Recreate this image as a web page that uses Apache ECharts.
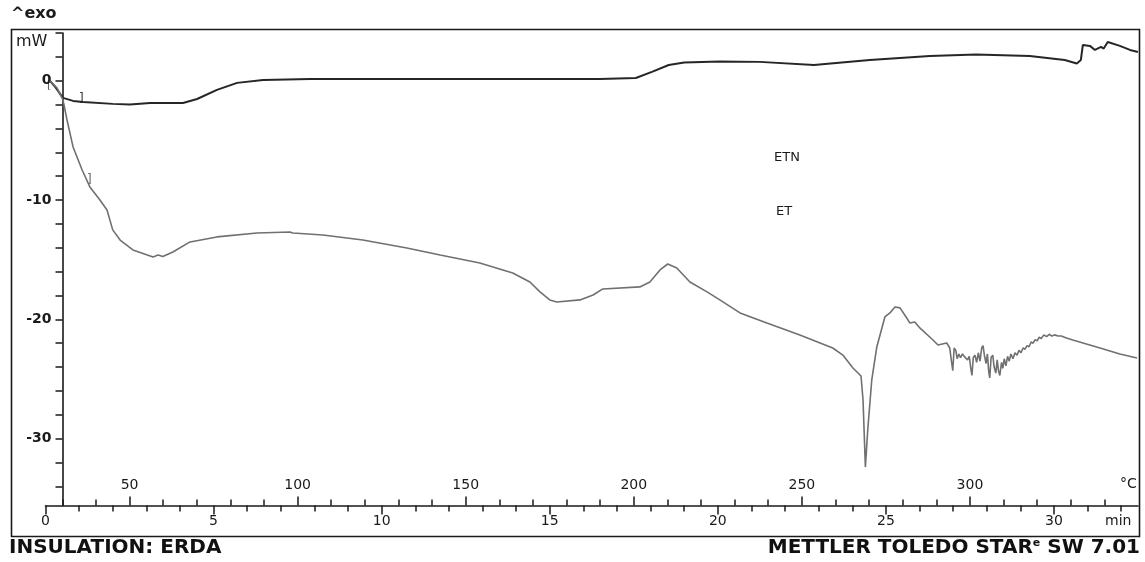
<!DOCTYPE html>
<html>
<head>
<meta charset="utf-8">
<script src="https://cdn.jsdelivr.net/npm/echarts@6/dist/echarts.min.js"></script>
<style>
html, body { margin: 0; padding: 0; background: #fff; }
#dsc { width: 1145px; height: 562px; }
</style>
</head>
<body>
<div id="dsc"></div>
<script>
// DSC curves, time in min, heat flow in mW
const etnTime = [0.13, 0.31, 0.52, 0.82, 1.12, 2.0, 2.51, 3.11, 4.09, 4.51, 5.1, 5.7, 6.47, 7.87, 12.03, 16.49,
  17.56, 18.04, 18.54, 19.0, 20.06, 21.25, 22.86, 24.52, 26.31, 27.68, 29.28, 30.32, 30.68, 30.8, 30.86,
  31.07, 31.22, 31.4, 31.48, 31.6, 31.96, 32.26, 32.5];
const etnMw = [0.0, -0.6, -1.44, -1.69, -1.78, -1.94, -1.99, -1.86, -1.86, -1.53, -0.77, -0.18, 0.07, 0.15, 0.15, 0.15,
  0.23, 0.74, 1.32, 1.53, 1.62, 1.58, 1.32, 1.74, 2.08, 2.2, 2.08, 1.74, 1.45, 1.74, 3.0,
  2.92, 2.58, 2.83, 2.7, 3.25, 2.92, 2.58, 2.41];

const etTime = [0.13, 0.34, 0.52, 0.64, 0.82, 1.09, 1.32, 1.62, 1.83, 2.0, 2.22, 2.6, 3.2, 3.35, 3.49, 3.79, 4.3,
  5.1, 6.29, 7.27, 7.36, 8.25, 9.44, 10.75, 11.74, 12.92, 13.9, 14.41, 14.71, 15.0, 15.21, 15.9, 16.29,
  16.58, 17.68, 17.98, 18.28, 18.51, 18.78, 19.17, 19.68, 20.06, 20.66, 21.46, 22.44, 23.42, 23.72, 24.02,
  24.26, 24.32, 24.39, 24.46, 24.58, 24.73, 24.97, 25.12, 25.27, 25.42, 25.62, 25.71, 25.86, 26.01, 26.4,
  26.55, 26.81, 26.9, 26.95, 26.99, 27.03, 27.08, 27.12, 27.17, 27.22, 27.28, 27.33, 27.38, 27.43, 27.48,
  27.53, 27.56, 27.6, 27.65, 27.7, 27.75, 27.8, 27.85, 27.89, 27.93, 27.98, 28.02, 28.06, 28.09, 28.13,
  28.18, 28.22, 28.27, 28.31, 28.35, 28.39, 28.44, 28.48, 28.52, 28.57, 28.62, 28.67, 28.72, 28.78, 28.84,
  28.9, 28.96, 29.02, 29.08, 29.14, 29.2, 29.26, 29.32, 29.38, 29.44, 29.5, 29.56, 29.62, 29.7, 29.78,
  29.86, 29.94, 30.02, 30.12, 30.22, 30.35, 30.56, 31.37, 31.96, 32.47];
const etMw = [0.0, -0.6, -1.61, -3.29, -5.55, -7.48, -8.9, -10.0, -10.83, -12.5, -13.35, -14.18, -14.77, -14.6,
  -14.73, -14.35, -13.51, -13.09, -12.76, -12.68, -12.76, -12.93, -13.35, -14.02, -14.6, -15.27, -16.11,
  -16.87, -17.7, -18.37, -18.54, -18.37, -17.96, -17.45, -17.28, -16.87, -15.86, -15.36, -15.69, -16.87,
  -17.7, -18.37, -19.46, -20.3, -21.31, -22.4, -22.99, -24.08, -24.75, -26.76, -32.38, -29.27, -25.08,
  -22.31, -19.8, -19.46, -18.96, -19.04, -19.88, -20.3, -20.22, -20.72, -21.73, -22.15, -21.98, -22.4,
  -23.5, -24.3, -22.4, -22.6, -23.3, -22.9, -23.2, -22.9, -23.1, -23.0, -23.4, -23.1, -24.2, -24.7, -23.2,
  -23.0, -23.6, -22.8, -23.5, -22.4, -22.2, -23.0, -23.7, -22.9, -24.4, -24.9, -23.2, -23.0, -24.0, -24.5,
  -23.4, -24.3, -24.7, -23.6, -24.1, -23.3, -23.9, -23.1, -23.5, -22.9, -23.3, -22.8, -23.0, -22.6, -22.8,
  -22.4, -22.5, -22.2, -22.3, -21.9, -22.0, -21.7, -21.8, -21.5, -21.6, -21.3, -21.45, -21.25, -21.4,
  -21.3, -21.4, -21.4, -21.55, -21.73, -22.4, -22.9, -23.24];

// tick marks and labels
const timeTicks = [1,2,3,4,6,7,8,9,11,12,13,14,16,17,18,19,21,22,23,24,26,27,28,29,31,32];
const timeLabels = [0, 5, 10, 15, 20, 25, 30];
const tempTicks = [30,40,60,70,80,90,110,120,130,140,160,170,180,190,210,220,230,240,260,270,280,290,310,320,330,340];
const tempLabels = [50, 100, 150, 200, 250, 300];
const mwTicks = [-34,-32,-28,-26,-24,-22,-18,-16,-14,-12,-8,-6,-4,-2,2,4];
const mwLabels = [-30, -20, -10, 0];

const zip = (a, b) => a.map((v, i) => [v, b[i]]);
const FONT = '"DejaVu Sans", Arial, sans-serif';
const INK = '#1a1a1a';

const tMin = 0, tMax = 32.5;
const tempMin = 25, tempMax = 25 + 10 * tMax;

function xAx(min, max, ticks, len, inside, labels, margin) {
  return {
    type: 'value', position: 'bottom', min: min, max: max,
    axisLine: { show: false, onZero: false },
    splitLine: { show: false },
    axisTick: { show: true, inside: inside, length: len, customValues: ticks,
      lineStyle: { color: INK, width: 1.5 } },
    axisLabel: labels ? { show: true, inside: inside, margin: margin, customValues: labels,
      color: INK, fontFamily: FONT, fontSize: 14 } : { show: false }
  };
}

let chart = echarts.init(document.getElementById('dsc'));
let timeMain = xAx(tMin, tMax, timeTicks, 6, false, timeLabels, 9);
timeMain.axisLine = { show: true, onZero: false, lineStyle: { color: INK, width: 1.6 } };

chart.setOption({
  animation: false,
  backgroundColor: '#fff',
  grid: { left: 45.5, right: 7, top: 33, bottom: 56.5, containLabel: false },
  xAxis: [
    timeMain,
    xAx(tMin, tMax, timeLabels, 9, false, null),
    xAx(tempMin, tempMax, tempTicks, 6, true, null),
    xAx(tempMin, tempMax, tempLabels, 9, true, tempLabels, 13)
  ],
  yAxis: {
    type: 'value', min: -35.6, max: 4, offset: -17,
    axisLine: { show: true, onZero: false, lineStyle: { color: INK, width: 1.6 } },
    splitLine: { show: false },
    axisTick: { show: true, length: 7, customValues: mwTicks.concat(mwLabels),
      lineStyle: { color: INK, width: 1.5 } },
    axisLabel: { show: true, margin: 11, customValues: mwLabels, color: INK,
      fontFamily: FONT, fontSize: 14, fontWeight: 'bold' }
  },
  series: [
    {
      name: 'ETN', type: 'line', xAxisIndex: 0, showSymbol: false,
      data: zip(etnTime, etnMw),
      lineStyle: { color: '#262626', width: 2 }
    },
    {
      name: 'ET', type: 'line', xAxisIndex: 0, showSymbol: false,
      data: zip(etTime, etMw),
      lineStyle: { color: '#707070', width: 1.6 }
    }
  ],
  graphic: [
    { type: 'rect', shape: { x: 11.5, y: 29.5, width: 1128, height: 507 },
      style: { fill: null, stroke: INK, lineWidth: 1.6 }, silent: true },
    { type: 'text', left: 11, top: 6, style: { text: '^exo', font: 'bold 16px ' + FONT, fill: INK } },
    { type: 'text', left: 16, top: 34, style: { text: 'mW', font: '16px ' + FONT, fill: INK } },
    { type: 'text', left: 1120, top: 477, style: { text: '°C', font: '14px ' + FONT, fill: INK } },
    { type: 'text', left: 1105, top: 514, style: { text: 'min', font: '14px ' + FONT, fill: INK } },
    { type: 'text', left: 774, top: 151, style: { text: 'ETN', font: '13px ' + FONT, fill: INK } },
    { type: 'text', left: 776, top: 205, style: { text: 'ET', font: '13px ' + FONT, fill: INK } },
    // bracket marks on the curves
    { type: 'text', left: 79, top: 93, style: { text: ']', font: '12px ' + FONT, fill: '#333' } },
    { type: 'text', left: 87, top: 174, style: { text: ']', font: '12px ' + FONT, fill: '#666' } },
    { type: 'text', left: 47, top: 80, style: { text: '[', font: '11px ' + FONT, fill: '#555' } },
    { type: 'text', left: 9, top: 538, style: { text: 'INSULATION: ERDA', font: 'bold 20px ' + FONT, fill: '#111' } },
    { type: 'text', right: 5, top: 538, style: {
        text: '{a|METTLER TOLEDO STAR}{s|e}{a| SW 7.01}',
        rich: {
          a: { font: 'bold 20px ' + FONT, fill: '#111' },
          s: { font: 'bold 11px ' + FONT, fill: '#111', verticalAlign: 'top', padding: [0, 0, 9, 0] }
        } } }
  ]
});
</script>
</body>
</html>
